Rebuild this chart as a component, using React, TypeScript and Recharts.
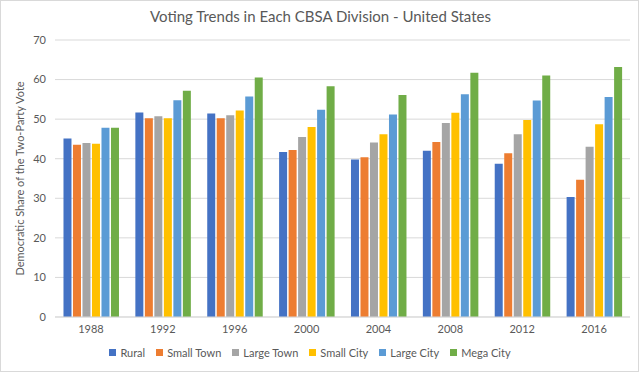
import { BarChart, Bar, XAxis, YAxis, CartesianGrid, Legend } from "recharts";

const YEARS = ["1988", "1992", "1996", "2000", "2004", "2008", "2012", "2016"];
const RURAL = [45.1, 51.7, 51.4, 41.7, 39.8, 42.0, 38.7, 30.3];
const SMALL_TOWN = [43.5, 50.2, 50.2, 42.2, 40.4, 44.2, 41.4, 34.7];
const LARGE_TOWN = [44.0, 50.7, 51.0, 45.5, 44.1, 49.0, 46.2, 43.0];
const SMALL_CITY = [43.8, 50.2, 52.2, 48.0, 46.2, 51.6, 49.8, 48.7];
const LARGE_CITY = [47.8, 54.8, 55.7, 52.4, 51.2, 56.3, 54.7, 55.6];
const MEGA_CITY = [47.8, 57.2, 60.5, 58.3, 56.1, 61.7, 61.0, 63.2];

const SERIES = [
  { key: "rural", name: "Rural", values: RURAL, color: "#4472C4" },
  { key: "smallTown", name: "Small Town", values: SMALL_TOWN, color: "#ED7D31" },
  { key: "largeTown", name: "Large Town", values: LARGE_TOWN, color: "#A5A5A5" },
  { key: "smallCity", name: "Small City", values: SMALL_CITY, color: "#FFC000" },
  { key: "largeCity", name: "Large City", values: LARGE_CITY, color: "#5B9BD5" },
  { key: "megaCity", name: "Mega City", values: MEGA_CITY, color: "#70AD47" },
];

const data = YEARS.map((year, i) => {
  const row: Record<string, string | number> = { year };
  SERIES.forEach((s) => {
    row[s.key] = s.values[i];
  });
  return row;
});

const FONT = "Lato, 'Open Sans', sans-serif";
const TEXT = "#595959";

// keep legend in series order, gray text like Excel
function LegendRow() {
  return (
    <div
      style={{
        display: "flex",
        justifyContent: "center",
        paddingTop: 7,
        transform: "translateX(-5px)",
        fontSize: 11,
        lineHeight: "13px",
        color: TEXT,
        fontFamily: FONT,
      }}
    >
      {SERIES.map((s, i) => (
        <div
          key={s.key}
          style={{ display: "flex", alignItems: "center", marginLeft: i === 0 ? 0 : 11 }}
        >
          <span style={{ width: 7, height: 7, background: s.color, marginRight: 4 }} />
          <span>{s.name}</span>
        </div>
      ))}
    </div>
  );
}

export default function App() {
  return (
    <div
      style={{
        position: "absolute",
        left: 0,
        top: 0,
        width: 639,
        height: 372,
        boxSizing: "border-box",
        border: "1px solid #d9d9d9",
        background: "#fff",
        fontFamily: FONT,
      }}
    >
      <div
        style={{
          position: "absolute",
          top: 6,
          left: 0,
          width: 639,
          textAlign: "center",
          fontSize: 15,
          color: TEXT,
        }}
      >
        Voting Trends in Each CBSA Division - United States
      </div>
      <div style={{ position: "absolute", left: -1, top: -1 }}>
        <BarChart
          width={639}
          height={372}
          data={data}
          margin={{ top: 40, right: 9, bottom: 8, left: 0 }}
          barCategoryGap="11.8%"
          barGap={1.5}
        >
          <CartesianGrid vertical={false} stroke="#d9d9d9" />
          <XAxis
            dataKey="year"
            height={22}
            tickLine={false}
            tickSize={0}
            tickMargin={8}
            axisLine={{ stroke: "#d9d9d9" }}
            tick={{ fill: TEXT, fontSize: 11, fontFamily: FONT }}
          />
          <YAxis
            width={55}
            domain={[0, 70]}
            ticks={[0, 10, 20, 30, 40, 50, 60, 70]}
            axisLine={false}
            tickLine={false}
            tickSize={0}
            tickMargin={9}
            tick={{ fill: TEXT, fontSize: 11, fontFamily: FONT }}
            label={{
              value: "Democratic Share of the Two-Party Vote",
              angle: -90,
              position: "center",
              dx: -7,
              fill: TEXT,
              fontSize: 11,
              fontFamily: FONT,
            }}
          />
          <Legend verticalAlign="bottom" height={25} content={() => <LegendRow />} />
          {SERIES.map((s) => (
            <Bar
              key={s.key}
              dataKey={s.key}
              name={s.name}
              fill={s.color}
              isAnimationActive={false}
            />
          ))}
        </BarChart>
      </div>
    </div>
  );
}
